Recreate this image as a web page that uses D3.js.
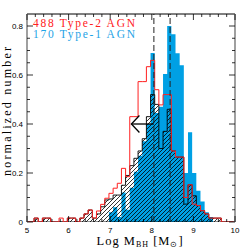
<!DOCTYPE html>
<html>
<head>
<meta charset="utf-8">
<script src="https://cdn.jsdelivr.net/npm/d3@7"></script>
<style>
  body { margin: 0; background: #fff; }
  svg { display: block; }
</style>
</head>
<body>
<div id="canvas"></div>
<script>
// histogram bins: left edge of first bin and width (log M_BH)
const binStart = 4.97;
const binWidth = 0.1;

// normalized counts per bin, bins 5.0 .. 9.9
const type2 = [0, 0, 0.016, 0, 0.016, 0.016, 0, 0, 0.016, 0,
  0.016, 0.016, 0, 0.016, 0.033, 0.049, 0.016, 0.045, 0.072, 0.097,
  0.117, 0.138, 0.158, 0.219, 0.185, 0.43, 0.43, 0.573, 0.573, 0.634,
  0.66, 0.54, 0.478, 0.52, 0.52, 0.29, 0.265, 0.265, 0.1, 0.152,
  0.073, 0.067, 0.046, 0.033, 0.016, 0.016, 0.016, 0, 0, 0];

const type1 = [0, 0, 0, 0, 0, 0, 0, 0, 0, 0,
  0, 0, 0, 0, 0, 0, 0, 0, 0, 0,
  0.04, 0.06, 0.02, 0.12, 0.05, 0.14, 0.205, 0.27, 0.33, 0.4,
  0.69, 0.445, 0.47, 0.604, 0.80, 0.766, 0.689, 0.64, 0.2, 0.366,
  0.2, 0.128, 0.084, 0.04, 0.02, 0, 0, 0, 0, 0];

const hatched = [0, 0, 0.016, 0, 0.016, 0.016, 0, 0, 0, 0,
  0.016, 0.016, 0, 0.016, 0.033, 0.049, 0.016, 0.033, 0.062, 0.09,
  0.094, 0.11, 0.11, 0.15, 0.19, 0.23, 0.26, 0.29, 0.34, 0.43,
  0.52, 0.48, 0.3, 0.37, 0.46, 0.29, 0.265, 0.265, 0.073, 0.152,
  0.107, 0.067, 0.046, 0.033, 0.016, 0.016, 0.016, 0, 0, 0];

const medians = [8.05, 8.44];
const arrowFrom = 8.05, arrowTo = 7.51, arrowLevel = 0.4;

const xTicks = [5, 6, 7, 8, 9, 10];
const yTicks = [0, 0.2, 0.4, 0.6, 0.8];
const legend = [
  {text: "488 Type-2 AGN", color: "#ff2020"},
  {text: "170 Type-1 AGN", color: "#1ea3e6"}
];

const width = 249, height = 249;
const margin = {top: 14, left: 27, bottom: 27, right: 14};

const svg = d3.select("#canvas").append("svg")
  .attr("width", width).attr("height", height);

const x = d3.scaleLinear().domain([5, 10]).range([margin.left, width - margin.right]);
const y = d3.scaleLinear().domain([0, 0.849]).range([height - margin.bottom, margin.top]);

const defs = svg.append("defs");
defs.append("clipPath").attr("id", "plot")
  .append("rect")
  .attr("x", x(5)).attr("y", y(0.849))
  .attr("width", x(10) - x(5)).attr("height", y(0) - y(0.849));

const pat = defs.append("pattern").attr("id", "hatch")
  .attr("patternUnits", "userSpaceOnUse")
  .attr("width", 4).attr("height", 4);
pat.append("path")
  .attr("d", "M-1,1 l2,-2 M0,4 l4,-4 M3,5 l2,-2")
  .attr("stroke", "#000").attr("stroke-width", 0.8);

function steps(vals) {
  const pts = [[binStart, 0]];
  vals.forEach((v, i) => {
    const a = binStart + i * binWidth;
    pts.push([a, v], [a + binWidth, v]);
  });
  pts.push([binStart + vals.length * binWidth, 0]);
  return pts;
}

const line = d3.line().x(d => x(d[0])).y(d => y(d[1]));

const g = svg.append("g").attr("clip-path", "url(#plot)");

g.append("path")
  .attr("d", line(steps(type1)) + "Z")
  .attr("fill", "#00a0e4")
  .attr("stroke", "none");

g.append("path")
  .attr("d", line(steps(hatched)) + "Z")
  .attr("fill", "url(#hatch)")
  .attr("stroke", "#000")
  .attr("stroke-width", 0.9);

g.append("path")
  .attr("d", line(steps(type2)))
  .attr("fill", "none")
  .attr("stroke", "#ff2020")
  .attr("stroke-width", 1);

// median lines
g.selectAll("line.med").data(medians).enter().append("line")
  .attr("class", "med")
  .attr("x1", d => x(d)).attr("x2", d => x(d))
  .attr("y1", y(0)).attr("y2", y(0.849))
  .attr("stroke", "#222").attr("stroke-width", 1)
  .attr("stroke-dasharray", "6,3");

// arrow
const ay = y(arrowLevel);
svg.append("line")
  .attr("x1", x(arrowFrom)).attr("x2", x(arrowTo))
  .attr("y1", ay).attr("y2", ay)
  .attr("stroke", "#000").attr("stroke-width", 1.3);
svg.append("path")
  .attr("d", `M${x(arrowTo) + 8},${ay - 8.5} L${x(arrowTo)},${ay} L${x(arrowTo) + 8},${ay + 8.5}`)
  .attr("fill", "none").attr("stroke", "#000").attr("stroke-width", 1.3);

// frame
const x0 = x(5), x1 = x(10), y0 = y(0), y1 = y(0.849);
svg.append("line").attr("x1", x0).attr("x2", x1).attr("y1", y1).attr("y2", y1)
  .attr("stroke", "#000").attr("stroke-width", 1);
svg.append("line").attr("x1", x0).attr("x2", x0).attr("y1", y1).attr("y2", y0)
  .attr("stroke", "#888").attr("stroke-width", 1.6);
svg.append("line").attr("x1", x1).attr("x2", x1).attr("y1", y1).attr("y2", y0)
  .attr("stroke", "#888").attr("stroke-width", 1.6);

// ticks
const xMinor = d3.range(5, 10.001, 0.2);
const yMinor = d3.range(0, 0.849, 0.05);
const tk = svg.append("g").attr("stroke", "#000").attr("stroke-width", 0.8);
xMinor.forEach(v => {
  const major = Math.abs(v - Math.round(v)) < 1e-6;
  const len = major ? 6 : 3;
  tk.append("line").attr("x1", x(v)).attr("x2", x(v)).attr("y1", y1).attr("y2", y1 + len);
  tk.append("line").attr("x1", x(v)).attr("x2", x(v)).attr("y1", y0).attr("y2", y0 - len);
});
yMinor.forEach(v => {
  const major = Math.abs(v * 5 - Math.round(v * 5)) < 1e-6;
  const len = major ? 6 : 3;
  tk.append("line").attr("x1", x0).attr("x2", x0 + len).attr("y1", y(v)).attr("y2", y(v));
  tk.append("line").attr("x1", x1).attr("x2", x1 - len).attr("y1", y(v)).attr("y2", y(v));
});

// tick labels
svg.selectAll("text.xt").data(xTicks).enter().append("text")
  .attr("class", "xt")
  .attr("x", d => x(d)).attr("y", y0 + 10.5)
  .attr("text-anchor", "middle")
  .attr("font-family", "Liberation Sans, Arial, sans-serif")
  .attr("font-size", 8)
  .text(d => d);
svg.selectAll("text.yt").data(yTicks).enter().append("text")
  .attr("class", "yt")
  .attr("x", x0 - 4).attr("y", d => y(d) + 3)
  .attr("text-anchor", "end")
  .attr("font-family", "Liberation Sans, Arial, sans-serif")
  .attr("font-size", 8)
  .text(d => d === 0 ? "0" : d.toFixed(1));

// axis titles
const xl = svg.append("text")
  .attr("x", 96.5).attr("y", 244.5)
  .attr("font-family", "Liberation Serif, Times New Roman, serif")
  .attr("font-size", 12.5)
  .attr("letter-spacing", 1);
xl.append("tspan").text("Log M");
xl.append("tspan").attr("font-size", 8).attr("dy", 2.5).text("BH");
xl.append("tspan").attr("dy", -2.5).text(" [M");
xl.append("tspan").attr("font-size", 8).attr("dy", 2.5).text("⊙");
xl.append("tspan").attr("dy", -2.5).text("]");

svg.append("text")
  .attr("transform", `translate(10.5,${(47 + 176) / 2}) rotate(-90)`)
  .attr("text-anchor", "middle")
  .attr("font-family", "Liberation Serif, Times New Roman, serif")
  .attr("font-size", 12)
  .attr("textLength", 129).attr("lengthAdjust", "spacing")
  .text("normalized number");

// legend
svg.selectAll("text.lg").data(legend).enter().append("text")
  .attr("class", "lg")
  .attr("x", 33).attr("y", (d, i) => 26.5 + i * 11)
  .attr("fill", d => d.color)
  .attr("font-family", "Liberation Serif, Times New Roman, serif")
  .attr("font-size", 11.5)
  .attr("textLength", 102).attr("lengthAdjust", "spacing")
  .text(d => d.text);
</script>
</body>
</html>
